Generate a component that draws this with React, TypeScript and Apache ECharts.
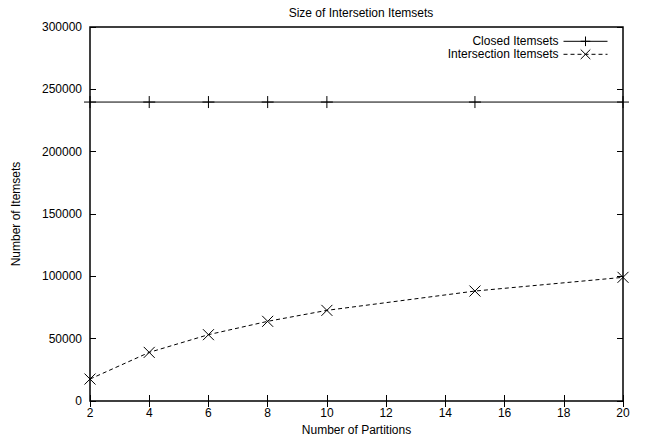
import React, { useEffect, useRef } from "react";
import * as echarts from "echarts";

const partitions = [2, 4, 6, 8, 10, 15, 20];
const closedItemsets = [239800, 239800, 239800, 239800, 239800, 239800, 239800];
const intersectionItemsets = [17600, 39000, 53200, 63900, 72700, 88200, 99200];
const titleText = "Size of Intersetion Itemsets";
const xName = "Number of Partitions";
const yName = "Number of Itemsets";
const closedName = "Closed Itemsets";
const interName = "Intersection Itemsets";

const FONT = "'Liberation Sans', Arial, Helvetica, sans-serif";
const FS = 12;
const PLUS = "path://M0,5L10,5M5,0L5,10";
const CROSS = "path://M0,0L10,10M10,0L0,10";

export default function App() {
  const ref = useRef<HTMLDivElement>(null);
  useEffect(() => {
    if (!ref.current) return;
    const chart = echarts.init(ref.current, undefined, { renderer: "svg" });
    const pairs = (ys: number[]) => partitions.map((x, i) => [x, ys[i]]);
    const tickCommon = { show: true, inside: true, length: 6, lineStyle: { color: "#000", width: 1 } };
    const legendCommon = {
      right: 32,
      align: "right",
      itemWidth: 44,
      itemHeight: 12,
      itemGap: 4,
      textStyle: { fontFamily: FONT, fontSize: FS, color: "#000" },
      lineStyle: { width: 1, color: "#000" },
      itemStyle: { borderWidth: 1, borderColor: "#000", color: "none" },
    };
    chart.setOption({
      animation: false,
      backgroundColor: "#fff",
      title: {
        text: titleText,
        left: 356,
        textAlign: "center",
        top: 2,
        textStyle: { fontFamily: FONT, fontSize: FS, fontWeight: "normal", color: "#000" },
      },
      grid: {
        left: 90,
        right: 22,
        top: 27,
        bottom: 41,
        show: true,
        borderColor: "#000",
        borderWidth: 1.5,
        backgroundColor: "transparent",
      },
      legend: [
        { ...legendCommon, data: [closedName], top: 29 },
        { ...legendCommon, data: [interName], top: 42 },
      ],
      xAxis: [
        {
          type: "value",
          min: 2,
          max: 20,
          interval: 2,
          name: xName,
          nameLocation: "middle",
          nameGap: 23,
          nameTextStyle: { fontFamily: FONT, fontSize: FS, color: "#000" },
          axisLine: { show: false },
          axisTick: tickCommon,
          axisLabel: { fontFamily: FONT, fontSize: FS, color: "#000", margin: 6 },
          splitLine: { show: false },
        },
        {
          type: "value",
          position: "top",
          min: 2,
          max: 20,
          interval: 2,
          axisLine: { show: false },
          axisTick: tickCommon,
          axisLabel: { show: false },
          splitLine: { show: false },
        },
      ],
      yAxis: [
        {
          type: "value",
          min: 0,
          max: 300000,
          interval: 50000,
          name: yName,
          nameLocation: "middle",
          nameGap: 68,
          nameTextStyle: { fontFamily: FONT, fontSize: FS, color: "#000" },
          axisLine: { show: false },
          axisTick: tickCommon,
          axisLabel: {
            fontFamily: FONT,
            fontSize: FS,
            color: "#000",
            margin: 8,
            formatter: (v: number) => String(v),
          },
          splitLine: { show: false },
        },
        {
          type: "value",
          position: "right",
          min: 0,
          max: 300000,
          interval: 50000,
          axisLine: { show: false },
          axisTick: tickCommon,
          axisLabel: { show: false },
          splitLine: { show: false },
        },
      ],
      series: [
        {
          name: closedName,
          type: "line",
          data: pairs(closedItemsets),
          symbol: PLUS,
          symbolSize: 12,
          showAllSymbol: true,
          lineStyle: { color: "#000", width: 1, type: "solid" },
          itemStyle: { color: "none", borderColor: "#000", borderWidth: 1 },
          z: 3,
        },
        {
          name: interName,
          type: "line",
          data: pairs(intersectionItemsets),
          symbol: CROSS,
          symbolSize: 11,
          showAllSymbol: true,
          lineStyle: { color: "#000", width: 1, type: [4, 3] },
          itemStyle: { color: "none", borderColor: "#000", borderWidth: 1 },
          z: 3,
        },
      ],
    });
    return () => chart.dispose();
  }, []);
  return <div ref={ref} style={{ width: 645, height: 442, position: "absolute", left: 0, top: 0 }} />;
}
